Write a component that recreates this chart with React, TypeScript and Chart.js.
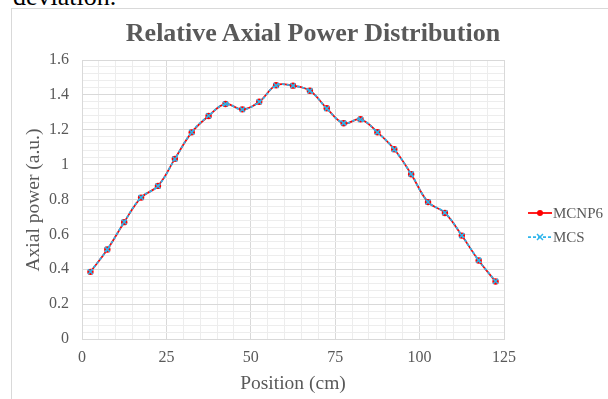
import React, { useEffect, useRef } from "react";
import { Chart, registerables } from "chart.js";

Chart.register(...registerables);

const positions = [2.5, 7.5, 12.5, 17.5, 22.5, 27.5, 32.5, 37.5, 42.5, 47.5, 52.5, 57.5, 62.5, 67.5, 72.5, 77.5, 82.5, 87.5, 92.5, 97.5, 102.5, 107.5, 112.5, 117.5, 122.5];
const mcnp6 = [0.385, 0.513, 0.670, 0.811, 0.878, 1.033, 1.185, 1.279, 1.348, 1.317, 1.361, 1.455, 1.453, 1.424, 1.323, 1.237, 1.260, 1.186, 1.088, 0.945, 0.785, 0.723, 0.593, 0.450, 0.330];
const mcs = [0.386, 0.514, 0.671, 0.812, 0.877, 1.032, 1.186, 1.280, 1.347, 1.316, 1.360, 1.454, 1.452, 1.423, 1.322, 1.238, 1.259, 1.185, 1.087, 0.946, 0.786, 0.724, 0.594, 0.451, 0.331];
const seriesNames = ["MCNP6", "MCS"];
const xTickStep = 5;
const xMajor = 25;
const yTickStep = 0.04;

const FONT = "'Liberation Serif', 'Times New Roman', serif";
const TEXT = "#595959";
const RED = "#ff0000";
const BLUE = "#2eb5ec";

const legendPlugin = {
  id: "customLegend",
  afterDraw(chart: any) {
    const ctx = chart.ctx;
    ctx.save();
    const items = [
      { name: seriesNames[0], color: RED, dash: [], y: 213, marker: "circle" },
      { name: seriesNames[1], color: BLUE, dash: [3, 2], y: 237, marker: "cross" },
    ];
    for (const it of items) {
      ctx.strokeStyle = it.color;
      ctx.lineWidth = 1.75;
      ctx.setLineDash(it.dash);
      ctx.beginPath();
      ctx.moveTo(528, it.y);
      ctx.lineTo(552, it.y);
      ctx.stroke();
      ctx.setLineDash([]);
      if (it.marker === "circle") {
        ctx.fillStyle = it.color;
        ctx.beginPath();
        ctx.arc(540, it.y, 3, 0, Math.PI * 2);
        ctx.fill();
      } else {
        ctx.lineWidth = 1.5;
        ctx.beginPath();
        ctx.moveTo(537, it.y - 3);
        ctx.lineTo(543, it.y + 3);
        ctx.moveTo(543, it.y - 3);
        ctx.lineTo(537, it.y + 3);
        ctx.stroke();
      }
      ctx.fillStyle = TEXT;
      ctx.font = `15px ${FONT}`;
      ctx.textBaseline = "middle";
      ctx.textAlign = "left";
      ctx.fillText(it.name, 553, it.y + 1);
    }
    ctx.restore();
  },
};

export default function App() {
  const ref = useRef<HTMLCanvasElement | null>(null);
  useEffect(() => {
    if (!ref.current) return;
    const chart = new Chart(ref.current, {
      type: "line",
      data: {
        datasets: [
          {
            label: seriesNames[0],
            data: positions.map((x, i) => ({ x, y: mcnp6[i] })),
            borderColor: RED,
            backgroundColor: RED,
            borderWidth: 1.75,
            pointStyle: "circle",
            pointRadius: 3.2,
            pointBorderWidth: 0,
            pointBackgroundColor: RED,
            tension: 0.4,
            order: 1,
          },
          {
            label: seriesNames[1],
            data: positions.map((x, i) => ({ x, y: mcs[i] })),
            borderColor: BLUE,
            backgroundColor: BLUE,
            borderWidth: 1.75,
            borderDash: [3, 2],
            pointStyle: "crossRot",
            pointRadius: 3.5,
            pointBorderWidth: 1.5,
            pointBorderColor: BLUE,
            tension: 0.4,
            order: 0,
          },
        ],
      },
      options: {
        animation: false,
        responsive: false,
        layout: { padding: { left: 0, top: 60, right: 104, bottom: 0 } },
        plugins: { legend: { display: false }, tooltip: { enabled: false }, title: { display: false } },
        scales: {
          x: {
            type: "linear",
            min: 0,
            max: 125,
            afterFit: (s: any) => { s.height = 60; },
            border: { color: "#d9d9d9" },
            grid: {
              drawTicks: false,
              color: (c: any) => (Math.round(c.tick.value) % xMajor === 0 ? "#d9d9d9" : "#ededed"),
              lineWidth: 1,
            },
            ticks: {
              stepSize: xTickStep,
              autoSkip: false,
              maxRotation: 0,
              maxTicksLimit: 1000,
              padding: 9,
              color: TEXT,
              font: { family: FONT, size: 16 },
              callback: (v: any) => (Math.round(v) % xMajor === 0 ? String(Math.round(v)) : ""),
            },
          },
          y: {
            type: "linear",
            min: 0,
            max: 1.6,
            afterFit: (s: any) => { s.width = 82; },
            border: { color: "#d9d9d9" },
            grid: {
              drawTicks: false,
              color: (c: any) => (Math.round(c.tick.value * 100) % 20 === 0 ? "#d9d9d9" : "#ededed"),
              lineWidth: 1,
            },
            ticks: {
              stepSize: yTickStep,
              autoSkip: false,
              maxTicksLimit: 1000,
              padding: 13,
              color: TEXT,
              font: { family: FONT, size: 16 },
              callback: (v: any) => {
                const r = Math.round(v * 100);
                return r % 20 === 0 ? String(r / 100) : "";
              },
            },
          },
        },
      },
      plugins: [legendPlugin],
    } as any);
    return () => chart.destroy();
  }, []);

  return (
    <div style={{ position: "fixed", left: 0, top: 0, width: 608, height: 399, overflow: "hidden", background: "#fff" }}>
      <div style={{ position: "absolute", left: 13, top: -16, fontFamily: FONT, fontSize: 26, lineHeight: "26px", color: "#000", whiteSpace: "nowrap" }}>deviation.</div>
      <div style={{ position: "absolute", left: 11, top: 8, width: 700, height: 500, border: "1px solid #d9d9d9", background: "#fff" }} />
      <canvas ref={ref} width={608} height={399} style={{ position: "absolute", left: 0, top: 0, width: 608, height: 399 }} />
      <div style={{ position: "absolute", left: 0, width: 626, top: 20, textAlign: "center", fontFamily: FONT, fontWeight: "bold", fontSize: 26, lineHeight: "26px", color: TEXT, whiteSpace: "nowrap" }}>Relative Axial Power Distribution</div>
      <div style={{ position: "absolute", left: 0, width: 586, top: 373, textAlign: "center", fontFamily: FONT, fontSize: 19.5, lineHeight: "20px", color: TEXT, whiteSpace: "nowrap" }}>Position (cm)</div>
      <div style={{ position: "absolute", left: -67, top: 189, width: 200, height: 22, textAlign: "center", fontFamily: FONT, fontSize: 19.5, lineHeight: "22px", color: TEXT, whiteSpace: "nowrap", transform: "rotate(-90deg)" }}>Axial power (a.u.)</div>
    </div>
  );
}
